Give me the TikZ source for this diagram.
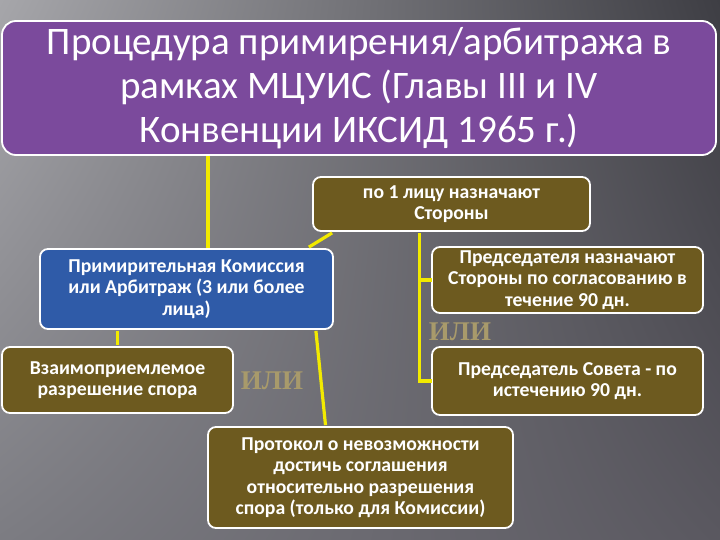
\documentclass[tikz,border=0pt]{standalone}
\usepackage{fontspec}
\setmainfont{Carlito}
\newfontfamily\ilifont{Liberation Serif}
\usetikzlibrary{calc,shadings}
\definecolor{bgUL}{HTML}{A6A6AA}
\definecolor{bgUR}{HTML}{3E3E44}
\definecolor{bgLL}{HTML}{7C7C82}
\definecolor{bgLR}{HTML}{5A5860}
\definecolor{purp}{HTML}{7B4A9C}
\definecolor{olive}{HTML}{6D5A1F}
\definecolor{bluebox}{HTML}{2F5BA8}
\definecolor{liney}{HTML}{F2EA00}
\definecolor{ilitan}{HTML}{A89A6B}
\tikzset{
  box/.style={draw=white, line width=1.8pt, rounded corners=8pt, inner sep=0pt,
    align=flush center, text=white, font=\fontsize{19.7}{21.5}\selectfont\bfseries},
  olivebox/.style={box, fill=olive},
  conn/.style={draw=liney, line width=3.2pt},
  ili/.style={text=ilitan, font=\ilifont\fontsize{27}{30}\selectfont\bfseries, inner sep=0pt}
}
\begin{document}
\begin{tikzpicture}[x=1pt,y=-1pt]
\useasboundingbox (0,0) rectangle (720,540);
\shade[upper left=bgUL, upper right=bgUR, lower left=bgLL, lower right=bgLR] (0,0) rectangle (720,540);
% title
\node[box, fill=purp, rounded corners=14pt, minimum width=714pt, minimum height=134pt,
  font=\fontsize{39}{44}\selectfont, text width=700pt] (title) at (359,88)
  {Процедура примирения/арбитража в\\ рамках МЦУИС (Главы III и IV\\ Конвенции ИКСИД 1965 г.)};
% boxes
\node[olivebox, minimum width=277pt, minimum height=54pt, text width=272pt] (po1) at (451.5,204)
  {по 1 лицу назначают\\ Стороны};
\node[box, fill=bluebox, minimum width=293pt, minimum height=80pt, text width=288pt] (blue) at (186.5,289)
  {Примирительная Комиссия\\ или Арбитраж (3 или более\\ лица)};
\node[olivebox, minimum width=271pt, minimum height=66pt, text width=268pt] (pred1) at (567.5,280)
  {Председателя назначают\\ Стороны по согласованию в\\ течение 90 дн.};
\node[olivebox, minimum width=271pt, minimum height=68pt, text width=268pt] (pred2) at (567.5,381)
  {Председатель Совета - по\\ истечению 90 дн.};
\node[olivebox, minimum width=231pt, minimum height=66pt, text width=228pt] (vzaim) at (117.5,380)
  {Взаимоприемлемое\\ разрешение спора};
\node[olivebox, minimum width=305pt, minimum height=101pt, text width=302pt] (prot) at (360.5,477.5)
  {Протокол о невозможности\\ достичь соглашения\\ относительно разрешения\\ спора (только для Комиссии)};
\node[ili] (ili1) at (272,381) {ИЛИ};
\node[ili] (ili2) at (460,332) {ИЛИ};
% connectors
\coordinate (cx) at (208,0);
\draw[conn] (title.south -| cx) -- (blue.north -| cx);
\draw[conn] ([xshift=20pt,yshift=-1pt]po1.south west) -- ([xshift=-25pt,yshift=1pt]blue.north east);
\draw[conn] ([xshift=-18pt,yshift=-1pt]blue.south east) -- ([xshift=-35pt,yshift=1pt]prot.north);
\draw[conn] ([yshift=-1pt]blue.south -| vzaim.north) -- ([yshift=1pt]vzaim.north);
\draw[conn] ([xshift=-32pt,yshift=-1pt]po1.south) coordinate (v) |- ([xshift=1pt]pred2.west);
\draw[conn] (v |- pred1.west) -- ([xshift=1pt]pred1.west);
\end{tikzpicture}
\end{document}
